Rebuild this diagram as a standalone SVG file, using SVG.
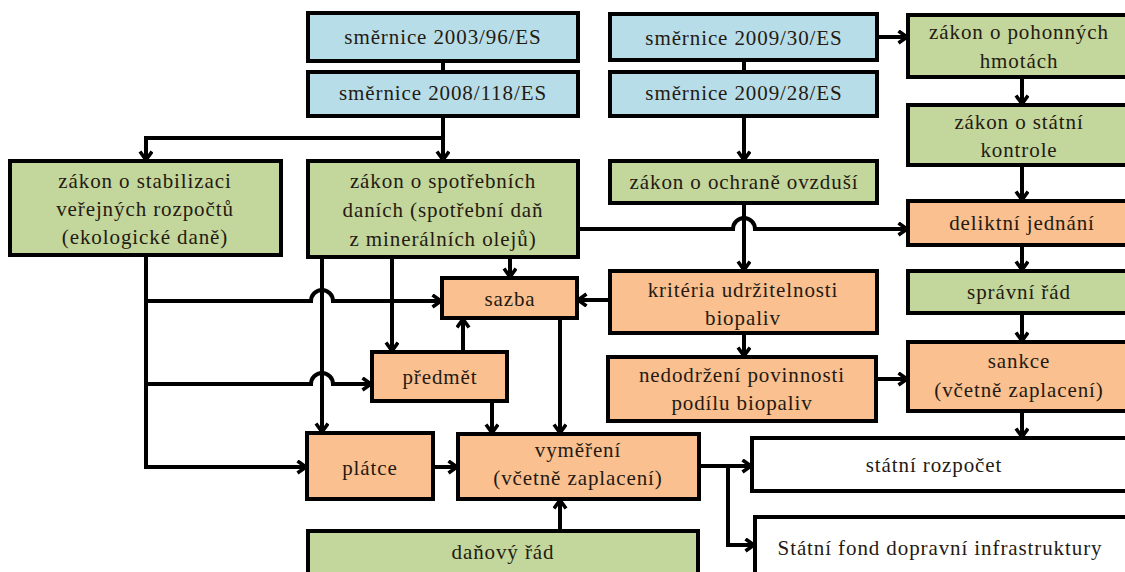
<svg xmlns="http://www.w3.org/2000/svg" width="1125" height="572" viewBox="0 0 1125 572">
<defs>
<style>
.box{stroke:#000;stroke-width:4}
.blue{fill:#b7dde8}
.green{fill:#c3d69b}
.orange{fill:#fac090}
.white{fill:#fff}
text{font-family:'Liberation Serif','Times New Roman','DejaVu Serif',serif;font-size:21px;letter-spacing:0.9px;fill:#241a12;text-anchor:middle}
.c{fill:none;stroke:#000;stroke-width:4}
.a{marker-end:url(#arr)}
</style>
<marker id="arr" markerUnits="userSpaceOnUse" markerWidth="16" markerHeight="16" refX="11" refY="7" orient="auto">
<path d="M1.5,1 L10,7 L1.5,13" fill="none" stroke="#000" stroke-width="3.6" stroke-linejoin="miter"/>
</marker>
</defs>
<rect width="1125" height="572" fill="#fff"/>

<g id="connectors">
<path class="c" d="M443,61 L443,72"/>
<path class="c a" d="M443,116 L443,161"/>
<path class="c a" d="M443,138 L146,138 L146,161"/>
<path class="c" d="M744,60 L744,72"/>
<path class="c a" d="M744,116 L744,161"/>
<path class="c a" d="M877,37 L908,37"/>
<path class="c a" d="M1022,77 L1022,105"/>
<path class="c a" d="M1022,165 L1022,201"/>
<path class="c a" d="M1022,245 L1022,271"/>
<path class="c a" d="M1022,313 L1022,342"/>
<path class="c a" d="M1022,411 L1022,438"/>
<path class="c a" d="M744,203 L744,271"/>
<path class="c a" d="M578,229 L733,229 A11,11 0 0 1 755,229 L908,229"/>
<path class="c a" d="M610,300 L577,300"/>
<path class="c a" d="M744,333 L744,357"/>
<path class="c a" d="M876,379 L908,379"/>
<path class="c a" d="M510,257 L510,278"/>
<path class="c a" d="M392,257 L392,352"/>
<path class="c a" d="M322,257 L322,433"/>
<path class="c a" d="M146,255 L146,467 L307,467"/>
<path class="c a" d="M146,301 L311,301 A11,11 0 0 1 333,301 L442,301"/>
<path class="c a" d="M146,384 L311,384 A11,11 0 0 1 333,384 L372,384"/>
<path class="c a" d="M463,352 L463,318"/>
<path class="c a" d="M560,318 L560,434"/>
<path class="c a" d="M492,401 L492,434"/>
<path class="c a" d="M433,467 L458,467"/>
<path class="c a" d="M560,531 L560,499"/>
<path class="c a" d="M699,466 L752,466"/>
<path class="c a" d="M728,466 L728,545 L755,545"/>
</g>

<g font-family="Liberation Serif, serif">
<g id="smernice2003"><rect class="box blue" x="308" y="13" width="270" height="48"/><text x="443" y="44">směrnice 2003/96/ES</text></g>
<g id="smernice2008"><rect class="box blue" x="308" y="72" width="270" height="44"/><text x="443" y="100">směrnice 2008/118/ES</text></g>
<g id="smernice2009_30"><rect class="box blue" x="610" y="14" width="267" height="46"/><text x="744" y="45">směrnice 2009/30/ES</text></g>
<g id="smernice2009_28"><rect class="box blue" x="610" y="72" width="267" height="44"/><text x="744" y="100">směrnice 2009/28/ES</text></g>

<g id="pohonne"><rect class="box green" x="908" y="15" width="224" height="62"/><text x="1019" y="39">zákon o pohonných</text><text x="1019" y="68">hmotách</text></g>
<g id="kontrola"><rect class="box green" x="908" y="105" width="224" height="60"/><text x="1019" y="129">zákon o státní</text><text x="1019" y="157">kontrole</text></g>
<g id="delikt"><rect class="box orange" x="908" y="201" width="224" height="44"/><text x="1022" y="230">deliktní jednání</text></g>
<g id="spravni"><rect class="box green" x="908" y="271" width="224" height="42"/><text x="1019" y="299">správní řád</text></g>
<g id="sankce"><rect class="box orange" x="908" y="342" width="224" height="69"/><text x="1019" y="368">sankce</text><text x="1019" y="397">(včetně zaplacení)</text></g>

<g id="stabilizace"><rect class="box green" x="10" y="161" width="271" height="94"/><text x="145" y="188">zákon o stabilizaci</text><text x="145" y="216">veřejných rozpočtů</text><text x="145" y="244">(ekologické daně)</text></g>
<g id="spotrebni"><rect class="box green" x="308" y="161" width="270" height="96"/><text x="443" y="188">zákon o spotřebních</text><text x="443" y="217">daních (spotřební daň</text><text x="443" y="246">z minerálních olejů)</text></g>
<g id="ovzdusi"><rect class="box green" x="610" y="161" width="267" height="42"/><text x="744" y="189">zákon o ochraně ovzduší</text></g>

<g id="sazba"><rect class="box orange" x="442" y="278" width="135" height="40"/><text x="510" y="306">sazba</text></g>
<g id="kriteria"><rect class="box orange" x="610" y="271" width="267" height="62"/><text x="743" y="297">kritéria udržitelnosti</text><text x="743" y="325">biopaliv</text></g>
<g id="predmet"><rect class="box orange" x="372" y="352" width="135" height="49"/><text x="440" y="384">předmět</text></g>
<g id="nedodrzeni"><rect class="box orange" x="608" y="357" width="268" height="64"/><text x="742" y="382">nedodržení povinnosti</text><text x="742" y="410">podílu biopaliv</text></g>
<g id="platce"><rect class="box orange" x="307" y="433" width="126" height="66"/><text x="370" y="475">plátce</text></g>
<g id="vymereni"><rect class="box orange" x="458" y="434" width="241" height="65"/><text x="578" y="457">vyměření</text><text x="578" y="485">(včetně zaplacení)</text></g>
<g id="danovy"><rect class="box green" x="308" y="531" width="390" height="60"/><text x="503" y="559">daňový řád</text></g>
<g id="rozpocet"><rect class="box white" x="752" y="438" width="390" height="53"/><text x="934" y="472">státní rozpočet</text></g>
<g id="fond"><rect class="box white" x="755" y="517" width="390" height="70"/><text x="940" y="555">Státní fond dopravní infrastruktury</text></g>
</g>
</svg>
